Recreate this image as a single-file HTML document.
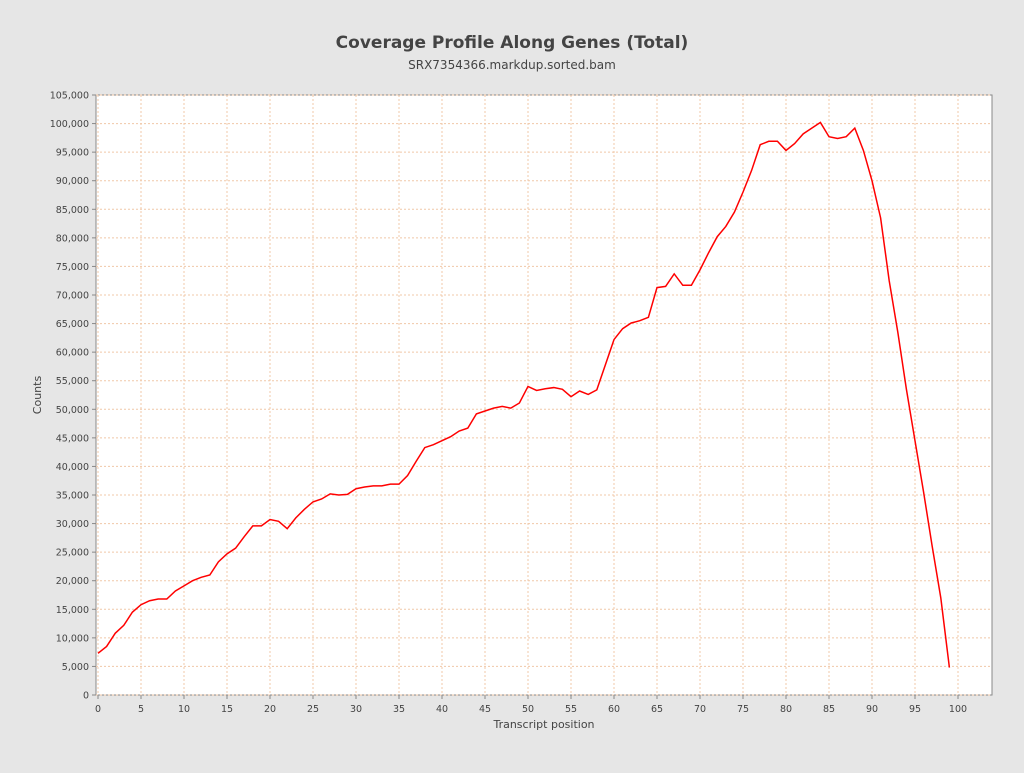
<!DOCTYPE html>
<html><head><meta charset="utf-8"><style>
body{margin:0;background:#e6e6e6;font-family:"Liberation Sans","DejaVu Sans",sans-serif}
svg text{font-family:"DejaVu Sans","Liberation Sans",sans-serif}
</style></head><body>
<svg id="chart" width="1024" height="768" xmlns="http://www.w3.org/2000/svg">
<rect width="1024" height="768" fill="#e6e6e6"/>
<text x="512" y="48" text-anchor="middle" font-size="17" font-weight="bold" fill="#444">Coverage Profile Along Genes (Total)</text>
<text x="512" y="69" text-anchor="middle" font-size="12" fill="#444">SRX7354366.markdup.sorted.bam</text>
<rect x="96" y="95" width="896" height="600" fill="#fff" stroke="#888"/>
<g id="grid"></g><g id="axes"></g><g id="series"></g>
<text x="544" y="728" text-anchor="middle" font-size="11" fill="#444">Transcript position</text>
<text transform="translate(41,395) rotate(-90)" text-anchor="middle" font-size="11" fill="#444">Counts</text>
</svg>
<script>
const xTicks=[0,5,10,15,20,25,30,35,40,45,50,55,60,65,70,75,80,85,90,95,100];
const yTicks=[0,5000,10000,15000,20000,25000,30000,35000,40000,45000,50000,55000,60000,65000,70000,75000,80000,85000,90000,95000,100000,105000];
const positions=[];for(let i=0;i<100;i++)positions.push(i);
const counts=[7300,8500,10800,12200,14500,15800,16500,16800,16800,18200,19100,20000,20600,21000,23300,24700,25700,27700,29600,29600,30700,30400,29100,31000,32500,33800,34300,35200,35000,35100,36100,36400,36600,36600,36900,36900,38400,40900,43300,43800,44500,45200,46200,46700,49200,49700,50200,50500,50200,51100,54000,53300,53600,53800,53500,52200,53200,52600,53400,57800,62200,64100,65100,65500,66100,71300,71500,73700,71700,71700,74400,77400,80200,82000,84500,88000,91800,96300,96900,96900,95300,96500,98200,99200,100200,97700,97400,97700,99200,95300,90000,83500,72500,63500,53500,44500,35500,26000,17000,4800];
const X=v=>98+v*8.6, Y=v=>695-v*600/105000;
const NS="http://www.w3.org/2000/svg";
const g=document.getElementById('grid'),a=document.getElementById('axes'),s=document.getElementById('series');
function mk(tag,attrs,parent){const e=document.createElementNS(NS,tag);for(const k in attrs)e.setAttribute(k,attrs[k]);parent.appendChild(e);return e;}
xTicks.forEach(t=>{
 const l=mk('line',{x1:X(t),x2:X(t),y1:95,y2:695,stroke:'#f0c8a8','stroke-dasharray':'2,2'},g);
 
 
 mk('line',{x1:X(t),x2:X(t),y1:695,y2:699,stroke:'#888'},a);
 const tx=mk('text',{x:X(t),y:712,'text-anchor':'middle','font-size':'9.5',fill:'#444'},a);
 tx.textContent=t;
 
 
});
yTicks.forEach(t=>{
 const l=mk('line',{x1:96,x2:992,y1:Y(t),y2:Y(t),stroke:'#f0c8a8','stroke-dasharray':'2,2'},g);
 
 
 mk('line',{x1:92,x2:96,y1:Y(t),y2:Y(t),stroke:'#888'},a);
 const tx=mk('text',{x:89,y:Y(t)+3.5,'text-anchor':'end','font-size':'9.5',fill:'#444'},a);
 tx.textContent=t.toLocaleString('en-US');
 
 
});
const p=mk('polyline',{points:positions.map((x,i)=>X(x)+','+Y(counts[i])).join(' '),fill:'none',stroke:'#ff0000','stroke-width':'1.5'},s);


</script>
</body></html>
